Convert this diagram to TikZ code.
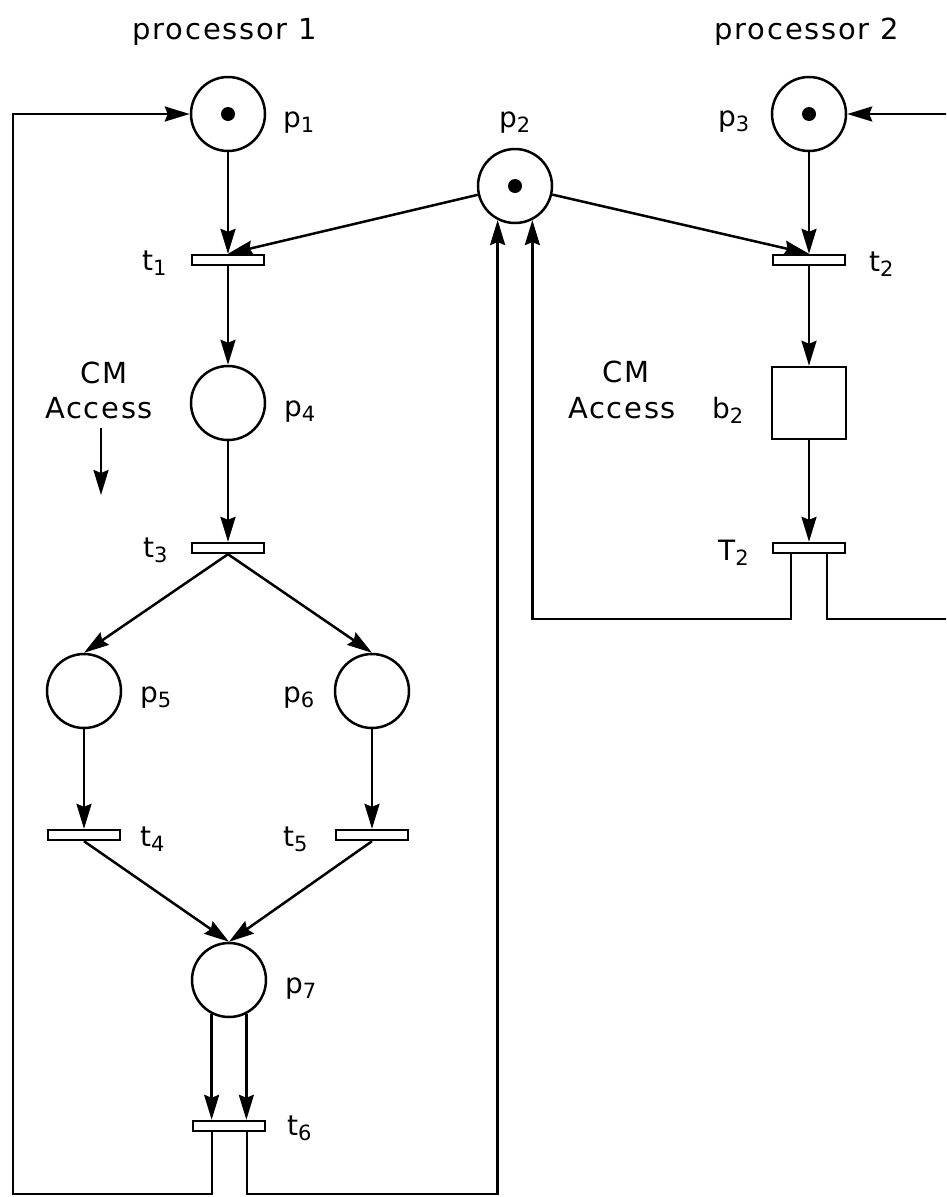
\documentclass[tikz,border=0pt]{standalone}
\usepackage{fontspec}
\setmainfont{DejaVu Sans}[LetterSpace=6]
\usetikzlibrary{arrows.meta}
\newcommand{\pl}[2]{#1\raisebox{-5pt}{\fontsize{21pt}{21pt}\selectfont #2}}
\begin{document}
\begin{tikzpicture}[x=1pt,y=-1pt,
  place/.style={circle, draw, line width=2.5pt, minimum size=74pt, inner sep=0pt},
  trans/.style={rectangle, draw, line width=2.4pt, minimum width=72pt, minimum height=10pt, inner sep=0pt, fill=white},
  buf/.style={rectangle, draw, line width=2.5pt, minimum width=74pt, minimum height=72pt, inner sep=0pt},
  arc/.style={line width=2.5pt, -{Stealth[length=25pt,width=15pt,inset=3pt]}},
  conn/.style={line width=2.5pt},
  token/.style={circle, fill, minimum size=14pt, inner sep=0pt},
  lab/.style={anchor=base west, inner sep=0pt, font=\fontsize{28pt}{30pt}\selectfont},
  txt/.style={anchor=base, inner sep=0pt, font=\fontsize{29pt}{31pt}\selectfont}]
\useasboundingbox (0,0) rectangle (946,1197);
\clip (0,0) rectangle (946,1197);

% places
\node[place] (p1) at (228,114) {};
\node[place] (p2) at (515,186) {};
\node[place] (p3) at (809,114) {};
\node[place] (p4) at (228,403) {};
\node[place] (p5) at (84,691) {};
\node[place] (p6) at (372,691) {};
\node[place] (p7) at (229,980) {};
\node[token] (k1) at (p1) {};
\node[token] (k2) at (p2) {};
\node[token] (k3) at (p3) {};

% transitions
\node[trans] (t1) at (228,260) {};
\node[trans] (t2) at (809,260) {};
\node[trans] (t3) at (228,548) {};
\node[trans] (t4) at (84,835) {};
\node[trans] (t5) at (372,835) {};
\node[trans] (t6) at (229,1126) {};
\node[trans] (T2) at (809,548) {};
\node[buf] (b2) at (809,403) {};

% texts
\node[txt] (proc1) at (225,39) {processor 1};
\node[txt] (proc2) at (807,39) {processor 2};
\node[txt] (cma) at (104,383) {CM};
\node[txt] (acca) at (99,418) {Access};
\node[txt] (cmb) at (626,382) {CM};
\node[txt] (accb) at (622,418) {Access};

% labels
\node[lab] (lp1) at (283,127) {\pl{p}{1}};
\node[lab] (lp2) at (499,127) {\pl{p}{2}};
\node[lab] (lp3) at (718,126) {\pl{p}{3}};
\node[lab] (lp4) at (284,416) {\pl{p}{4}};
\node[lab] (lp5) at (140,702) {\pl{p}{5}};
\node[lab] (lp6) at (283,702) {\pl{p}{6}};
\node[lab] (lp7) at (285,993) {\pl{p}{7}};
\node[lab] (lt1) at (142,270) {\pl{t}{1}};
\node[lab] (lt2) at (869,271) {\pl{t}{2}};
\node[lab] (lt3) at (143,557) {\pl{t}{3}};
\node[lab] (lt4) at (140,846) {\pl{t}{4}};
\node[lab] (lt5) at (283,846) {\pl{t}{5}};
\node[lab] (lt6) at (287,1135) {\pl{t}{6}};
\node[lab] (lT2) at (718,560) {\pl{T}{2}};
\node[lab] (lb2) at (712,418) {\pl{b}{2}};

% arcs
\draw[arc] (p1) -- (t1.north);
\draw[arc] (p2) -- (t1.north);
\draw[arc] (p2) -- (t2.north);
\draw[arc] (p3) -- (t2.north);
\draw[arc] (t1.south) -- (p4.north);
\draw[arc] (p4) -- (t3.north);
\draw[arc] (t3.south) -- (p5.north);
\draw[arc] (t3.south) -- (p6.north);
\draw[arc] (p5) -- (t4.north);
\draw[arc] (p6) -- (t5.north);
\draw[arc] (t4.south) -- (p7.north);
\draw[arc] (t5.south) -- (p7.north);
\draw[arc] (p7.243) -- (p7.243 |- t6.north);
\draw[arc] (p7.297) -- (p7.297 |- t6.north);
\draw[arc] (t2.south) -- (b2.north);
\draw[arc] (b2.south) -- (T2.north);

% CM access arrow
\coordinate (cm1) at (101,428);
\coordinate (cm2) at (101,495);
\draw[arc] (cm1) -- (cm2);

% feedback from t6
\coordinate (l6) at (212,1194);
\coordinate (r6) at (247,1194);
\coordinate (cBL) at (13,1194);
\coordinate (cTL) at (13,114);
\coordinate (cB2) at (p2.243 |- r6);
\draw[arc] (t6.south -| l6) -- (l6) -- (cBL) -- (cTL) -- (p1.west);
\draw[arc] (t6.south -| r6) -- (r6) -- (cB2) -- (p2.243);

% feedback from T2
\coordinate (lT) at (791,619);
\coordinate (rT) at (827,619);
\coordinate (cT2) at (p2.297 |- lT);
\coordinate (cRB) at (960,619);
\coordinate (cRT) at (960,114);
\draw[arc] (T2.south -| lT) -- (lT) -- (cT2) -- (p2.297);
\draw[arc] (T2.south -| rT) -- (rT) -- (cRB) -- (cRT) -- (p3.east);
\end{tikzpicture}
\end{document}
